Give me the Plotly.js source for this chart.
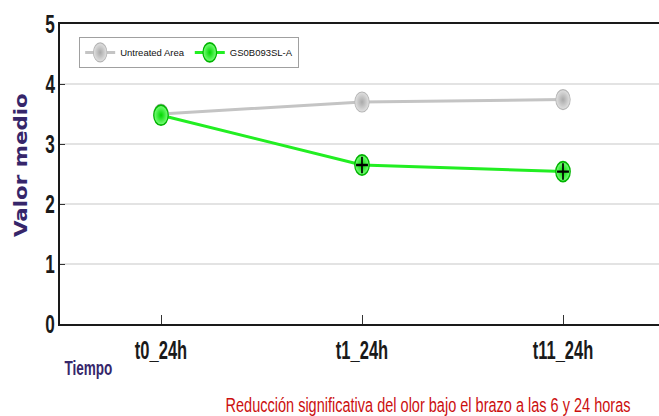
<!DOCTYPE html>
<html>
<head>
<meta charset="utf-8">
<script src="https://cdn.plot.ly/plotly-3.0.1.min.js"></script>
<style>
  html, body { margin: 0; padding: 0; background: #ffffff; }
  #chart { width: 659px; height: 416px; }
</style>
</head>
<body>
<div id="chart"></div>
<script>
// ---- Data ----
const categories = ['t0_24h', 't1_24h', 't11_24h'];
const untreatedArea = [3.50, 3.70, 3.74];
const gs0b093slA = [3.48, 2.65, 2.54];
const significantIdx = [1, 2];           // points marked with "+"
const seriesNames = ['Untreated Area', 'GS0B093SL-A'];
const yTickVals = [0, 1, 2, 3, 4, 5];

const sans = 'Liberation Sans, Arial, sans-serif';

const traces = [
  {
    x: categories, y: untreatedArea, name: seriesNames[0],
    type: 'scatter', mode: 'lines+markers',
    line: { color: '#c4c4c4', width: 3 },
    marker: { size: 17, color: '#e2e2e2', gradient: { type: 'radial', color: '#a9a9a9' },
              line: { color: '#b5b5b5', width: 1 } }
  },
  {
    x: categories, y: gs0b093slA, name: seriesNames[1],
    type: 'scatter', mode: 'lines+markers',
    line: { color: '#22ee22', width: 3 },
    marker: { size: 17, color: '#7dff7d', gradient: { type: 'radial', color: '#00d800' },
              line: { color: '#00b400', width: 1.5 } }
  },
  {
    x: significantIdx.map(i => categories[i]),
    y: significantIdx.map(i => gs0b093slA[i]),
    type: 'scatter', mode: 'markers', showlegend: false, hoverinfo: 'skip',
    marker: { symbol: 'cross-thin', size: 10, color: '#000000', line: { color: '#000000', width: 2 } }
  }
];

const layout = {
  width: 659, height: 416,
  margin: { l: 60, r: 0, t: 24, b: 92 },
  paper_bgcolor: '#ffffff', plot_bgcolor: '#ffffff',
  showlegend: true,
  legend: {
    orientation: 'h', x: 0.032, y: 0.957, xanchor: 'left', yanchor: 'top',
    bgcolor: '#ffffff', bordercolor: '#a0a0a0', borderwidth: 1,
    font: { family: sans, size: 9.5, color: '#111111' },
    itemwidth: 30, tracegroupgap: 0
  },
  xaxis: {
    type: 'category', range: [-0.5025, 2.4776],
    showline: true, linecolor: '#1a1a1a', linewidth: 2, mirror: true,
    ticks: 'inside', ticklen: 9, tickcolor: '#333333', tickwidth: 1,
    showgrid: false, zeroline: false,
    tickfont: { family: sans, size: 25, color: '#1a1a1a', weight: 'bold' },
    ticklabelstandoff: 3
  },
  yaxis: {
    range: [0, 5], tickvals: yTickVals,
    showline: true, linecolor: '#1a1a1a', linewidth: 2,
    ticks: 'inside', ticklen: 5, tickcolor: '#333333', tickwidth: 1,
    showgrid: true, gridcolor: '#e3e3e3', gridwidth: 2, zeroline: false,
    tickfont: { family: sans, size: 26, color: '#1a1a1a', weight: 'bold' },
    ticklabelstandoff: -2
  },
  annotations: [
    { text: '<b>Valor medio</b>', xref: 'paper', yref: 'paper', x: -0.065, y: 0.529,
      textangle: -90, showarrow: false, xanchor: 'center', yanchor: 'middle',
      font: { family: 'DejaVu Sans, Verdana, sans-serif', size: 17, color: '#36266a' } },
    { text: '<b>Tiempo</b>', xref: 'paper', yref: 'paper', x: 0.047, y: -0.145,
      showarrow: false, xanchor: 'center', yanchor: 'middle',
      font: { family: sans, size: 20, color: '#36266a' } },
    { text: 'Reducción significativa del olor bajo el brazo a las 6 y 24 horas',
      xref: 'paper', yref: 'paper', x: 0.614, y: -0.269,
      showarrow: false, xanchor: 'center', yanchor: 'middle',
      font: { family: sans, size: 21, color: '#cc0f0f' } }
  ]
};

// Horizontal stretch of a text element about its anchor point (mimics the
// narrow, tall lettering of the reference image).
function stretchText(el, sx) {
  const b = el.getBBox();
  const anchor = el.getAttribute('text-anchor') || 'start';
  const ax = anchor === 'middle' ? b.x + b.width / 2 : (anchor === 'end' ? b.x + b.width : b.x);
  const prev = el.getAttribute('transform') || '';
  el.setAttribute('transform', prev + ' translate(' + ax + ',0) scale(' + sx + ',1) translate(' + (-ax) + ',0)');
}
function fitText(el, targetWidth) {
  const w = el.getBBox().width;
  if (w > 0) stretchText(el, targetWidth / w);
}
// The reference's bead markers are slightly tall ellipses.
function ovalMarker(el) {
  const prev = el.getAttribute('transform') || '';
  el.setAttribute('transform', prev + ' scale(0.85,1.18)');
}

Plotly.newPlot('chart', traces, layout, { displayModeBar: false, staticPlot: true }).then(gd => {
  gd.querySelectorAll('.xtick text').forEach(t => stretchText(t, 0.66));
  gd.querySelectorAll('.ytick text').forEach(t => stretchText(t, 0.66));
  const ann = gd.querySelectorAll('.annotation-text');
  if (ann[0]) fitText(ann[0], 144);
  if (ann[1]) fitText(ann[1], 48);
  if (ann[2]) fitText(ann[2], 405);
  gd.querySelectorAll('.scatterlayer .points path.point').forEach(ovalMarker);
  gd.querySelectorAll('.legend .legendpoints path.scatterpts').forEach(ovalMarker);
});
</script>
</body>
</html>
